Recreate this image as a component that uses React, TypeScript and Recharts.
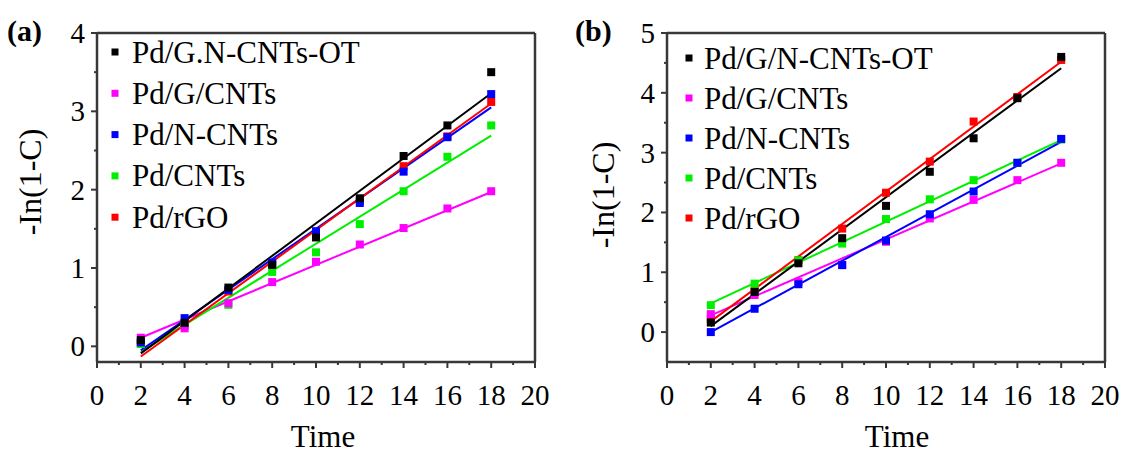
import React from 'react';
import { ComposedChart, Line, Scatter, XAxis, YAxis } from 'recharts';

// sampling times shared by every series
const times = [2, 4, 6, 8, 10, 12, 14, 16, 18];
const fitTimes = [2, 18];

const xTickValues = [0, 1, 2, 3, 4, 5, 6, 7, 8, 9, 10, 11, 12, 13, 14, 15, 16, 17, 18, 19, 20];
const yTicksA = [0, 0.5, 1, 1.5, 2, 2.5, 3, 3.5, 4];
const yTicksB = [0, 0.5, 1, 1.5, 2, 2.5, 3, 3.5, 4, 4.5, 5];

const namesA = ['Pd/G.N-CNTs-OT', 'Pd/G/CNTs', 'Pd/N-CNTs', 'Pd/CNTs', 'Pd/rGO'];
const namesB = ['Pd/G/N-CNTs-OT', 'Pd/G/CNTs', 'Pd/N-CNTs', 'Pd/CNTs', 'Pd/rGO'];
const colors = ['#000000', '#ff00ff', '#0000ff', '#00ee00', '#ff0000'];

// panel (a) measured points
const aBlack = [0.08, 0.3, 0.75, 1.04, 1.39, 1.89, 2.43, 2.82, 3.5];
const aPink = [0.11, 0.23, 0.55, 0.82, 1.08, 1.3, 1.51, 1.76, 1.98];
const aBlue = [0.05, 0.36, 0.72, 1.07, 1.47, 1.83, 2.23, 2.67, 3.22];
const aGreen = [0.03, 0.27, 0.53, 0.95, 1.2, 1.56, 1.98, 2.42, 2.82];
const aRed = [0.04, 0.27, 0.7, 1.05, 1.42, 1.86, 2.3, 2.68, 3.12];
// panel (a) fitted lines, values at t=2 and t=18
const aFitBlack = [-0.09, 3.23];
const aFitPink = [0.11, 1.97];
const aFitBlue = [-0.05, 3.05];
const aFitGreen = [-0.07, 2.69];
const aFitRed = [-0.13, 3.1];

// panel (b) measured points
const bBlack = [0.16, 0.67, 1.15, 1.57, 2.11, 2.68, 3.24, 3.91, 4.6];
const bPink = [0.3, 0.62, 0.84, 1.12, 1.51, 1.9, 2.21, 2.54, 2.83];
const bBlue = [0.0, 0.39, 0.8, 1.12, 1.53, 1.97, 2.35, 2.83, 3.23];
const bGreen = [0.45, 0.81, 1.2, 1.48, 1.89, 2.22, 2.54, 2.83, 3.22];
const bRed = [0.22, 0.7, 1.2, 1.73, 2.33, 2.85, 3.52, 3.93, 4.55];
// panel (b) fitted lines
const bFitBlack = [0.1, 4.41];
const bFitPink = [0.28, 2.82];
const bFitBlue = [0.0, 3.18];
const bFitGreen = [0.48, 3.21];
const bFitRed = [0.18, 4.52];

const FONT = 'Liberation Serif, Times New Roman, DejaVu Serif, serif';
const AXIS = '#383838';
const txt = { fontFamily: FONT };

const toPts = (ts: number[], vs: number[]) => ts.map((t, i) => ({ t, v: vs[i] }));

const XTick = (props: any) => {
  const { x, y, payload } = props;
  const major = payload.value % 2 === 0;
  return (
    <g>
      <line x1={x} y1={y} x2={x} y2={y + (major ? 6 : 3)} stroke={AXIS} strokeWidth={2} />
      {major && (
        <text x={x} y={y + 43} textAnchor="middle" fontSize={29} style={txt} fill="#000">
          {payload.value}
        </text>
      )}
    </g>
  );
};

const YTick = (props: any) => {
  const { x, y, payload } = props;
  const major = Number.isInteger(payload.value);
  return (
    <g>
      <line x1={x} y1={y} x2={x - (major ? 6 : 3)} y2={y} stroke={AXIS} strokeWidth={2} />
      {major && (
        <text x={x - 12} y={y} textAnchor="end" dominantBaseline="central" fontSize={29} style={txt} fill="#000">
          {payload.value}
        </text>
      )}
    </g>
  );
};

const square = (color: string) => (p: any) =>
  <rect x={p.cx - 4} y={p.cy - 4} width={8} height={8} fill={color} />;

interface PanelProps {
  width: number;
  plotRight: number;
  yDomain: [number, number];
  yTicks: number[];
  points: number[][];
  fits: number[][];
}

// draw order: index into colors, lines first then markers
const lineOrder = [1, 3, 2, 4, 0];
const markerOrder = [4, 3, 1, 2, 0];

const Panel: React.FC<PanelProps> = ({ width, plotRight, yDomain, yTicks, points, fits }) => (
  <ComposedChart width={width} height={453} margin={{ top: 32, right: width - plotRight - 1, bottom: 0, left: 0 }}>
    <XAxis dataKey="t" type="number" domain={[0, 20]} ticks={xTickValues} interval={0}
      height={91} tickSize={0} tickMargin={0} tickLine={false} tick={<XTick />}
      axisLine={{ stroke: AXIS, strokeWidth: 2.5 }} />
    <XAxis xAxisId="top" orientation="top" type="number" domain={[0, 20]} height={1}
      tick={false} tickLine={false} axisLine={{ stroke: AXIS, strokeWidth: 2.5 }} />
    <YAxis dataKey="v" type="number" domain={yDomain} ticks={yTicks} interval={0}
      width={97} tickSize={0} tickMargin={0} tickLine={false} tick={<YTick />}
      axisLine={{ stroke: AXIS, strokeWidth: 2.5 }} />
    <YAxis yAxisId="right" orientation="right" type="number" domain={yDomain} width={1}
      tick={false} tickLine={false} axisLine={{ stroke: AXIS, strokeWidth: 2.5 }} />
    {lineOrder.map((i) => (
      <Line key={'l' + i} data={toPts(fitTimes, fits[i])} dataKey="v" stroke={colors[i]}
        strokeWidth={2} dot={false} isAnimationActive={false} />
    ))}
    {markerOrder.map((i) => (
      <Scatter key={'s' + i} data={toPts(times, points[i])} fill={colors[i]}
        shape={square(colors[i])} isAnimationActive={false} />
    ))}
  </ComposedChart>
);

const LegendBox: React.FC<{ names: string[]; mx: number; tx: number; y0: number; dy: number }> = ({ names, mx, tx, y0, dy }) => (
  <g>
    {names.map((n, i) => (
      <g key={n}>
        <rect x={mx - 3.5} y={y0 + i * dy - 3.5} width={7} height={7} fill={colors[i]} />
        <text x={tx} y={y0 + i * dy} dominantBaseline="central" fontSize={31} style={txt} fill="#000">{n}</text>
      </g>
    ))}
  </g>
);

export default function App() {
  return (
    <div style={{ position: 'absolute', left: 0, top: 0, width: 1123, height: 453, background: '#fff' }}>
      <div style={{ position: 'absolute', left: 0, top: 0 }}>
        <Panel width={560} plotRight={535} yDomain={[-0.2, 4]} yTicks={yTicksA}
          points={[aBlack, aPink, aBlue, aGreen, aRed]}
          fits={[aFitBlack, aFitPink, aFitBlue, aFitGreen, aFitRed]} />
      </div>
      <div style={{ position: 'absolute', left: 570, top: 0 }}>
        <Panel width={553} plotRight={535} yDomain={[-0.5, 5]} yTicks={yTicksB}
          points={[bBlack, bPink, bBlue, bGreen, bRed]}
          fits={[bFitBlack, bFitPink, bFitBlue, bFitGreen, bFitRed]} />
      </div>
      <svg width={1123} height={453} style={{ position: 'absolute', left: 0, top: 0, pointerEvents: 'none' }}>
        <text x={7} y={41} fontSize={30} fontWeight="bold" style={txt}>(a)</text>
        <text x={575} y={41} fontSize={30} fontWeight="bold" style={txt}>(b)</text>
        <text transform="translate(30,182) rotate(-90)" textAnchor="middle" dominantBaseline="central" fontSize={32} style={txt}>-In(1-C)</text>
        <text transform="translate(603,195) rotate(-90)" textAnchor="middle" dominantBaseline="central" fontSize={32} style={txt}>-In(1-C)</text>
        <text x={323} y={447} textAnchor="middle" fontSize={31} style={txt}>Time</text>
        <text x={897} y={447} textAnchor="middle" fontSize={31} style={txt}>Time</text>
        <LegendBox names={namesA} mx={115} tx={132} y0={52} dy={41.3} />
        <LegendBox names={namesB} mx={689} tx={704} y0={58} dy={40} />
      </svg>
    </div>
  );
}
